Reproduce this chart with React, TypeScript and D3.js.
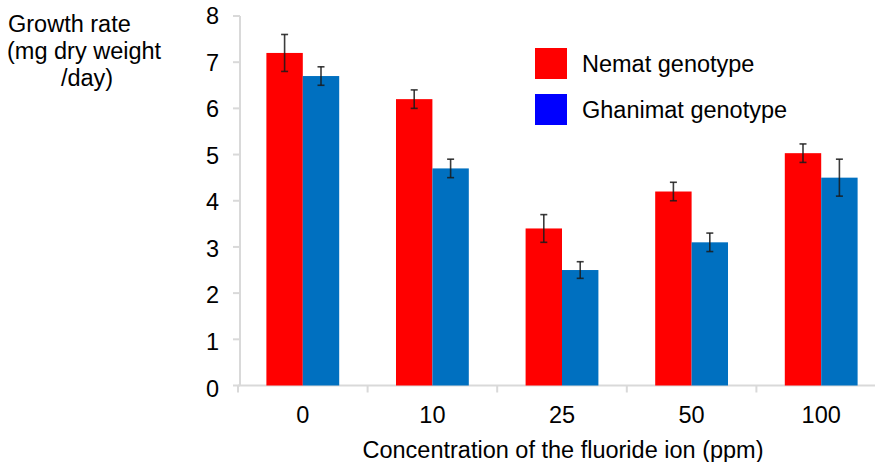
import React from 'react';
import * as d3 from 'd3';

const categories = ['0', '10', '25', '50', '100'];
const seriesNames = ['Nemat genotype', 'Ghanimat genotype'];
const nemat = [7.2, 6.2, 3.4, 4.2, 5.03];
const nematErr = [0.4, 0.2, 0.3, 0.2, 0.2];
const ghanimat = [6.7, 4.7, 2.5, 3.1, 4.5];
const ghanimatErr = [0.2, 0.2, 0.18, 0.2, 0.4];
const yTicks = [0, 1, 2, 3, 4, 5, 6, 7, 8];
const yLabelLines = ['Growth rate', '(mg dry weight', '/day)'];
const xTitle = 'Concentration of the fluoride ion (ppm)';

const W = 875;
const H = 462;
const FONT = "'Liberation Sans', Arial, Helvetica, sans-serif";
const barColors = ['#FF0000', '#0070C0'];
const legendColors = ['#FF0000', '#0000FF'];
const axisColor = '#d9d9d9';

export default function App() {
  const x0 = d3.scaleBand<string>().domain(categories).range([238, 886]).padding(0);
  const x1 = d3
    .scaleBand<string>()
    .domain(seriesNames)
    .range([0, x0.bandwidth()])
    .paddingInner(0)
    .paddingOuter(0.78);
  const y = d3.scaleLinear().domain([0, 8]).range([385.5, 16]);

  const series = [
    { name: seriesNames[0], values: nemat, errs: nematErr, color: barColors[0] },
    { name: seriesNames[1], values: ghanimat, errs: ghanimatErr, color: barColors[1] },
  ];

  const bounds = categories.map((c) => x0(c) as number).concat([x0.range()[1]]);
  const fontSize = 23.5;

  return (
    <svg width={W} height={H} style={{ display: 'block' }} fontFamily={FONT}>
      <style>{`body{margin:0}`}</style>
      <rect x={0} y={0} width={W} height={H} fill="#fff" />

      {/* y axis */}
      <line x1={240} x2={240} y1={y(8)} y2={y(0)} stroke={axisColor} strokeWidth={2} />
      {yTicks.map((t) => (
        <g key={t}>
          <line x1={233} x2={240} y1={y(t)} y2={y(t)} stroke={axisColor} strokeWidth={2} />
          <text
            x={219}
            y={y(t) + 3 * (1 - t / 8)}
            textAnchor="end"
            dominantBaseline="central"
            fontSize={fontSize}
            fill="#000"
          >
            {t}
          </text>
        </g>
      ))}

      {/* x axis */}
      <line x1={238} x2={W} y1={y(0)} y2={y(0)} stroke={axisColor} strokeWidth={2} />
      {bounds.map((b, i) => (
        <line key={i} x1={b} x2={b} y1={y(0)} y2={y(0) + 7} stroke={axisColor} strokeWidth={2} />
      ))}

      {/* bars */}
      {series.map((s) =>
        categories.map((c, i) => {
          const bx = (x0(c) as number) + (x1(s.name) as number);
          const bw = x1.bandwidth();
          return (
            <rect
              key={s.name + c}
              x={bx}
              y={y(s.values[i])}
              width={bw}
              height={y(0) - y(s.values[i])}
              fill={s.color}
            />
          );
        })
      )}

      {/* error bars */}
      {series.map((s) =>
        categories.map((c, i) => {
          const cx = (x0(c) as number) + (x1(s.name) as number) + x1.bandwidth() / 2;
          const top = y(s.values[i] + s.errs[i]);
          const bot = y(s.values[i] - s.errs[i]);
          return (
            <g key={'e' + s.name + c} stroke="#1a1a1a" strokeWidth={1.6} strokeOpacity={0.85}>
              <line x1={cx} x2={cx} y1={top} y2={bot} />
              <line x1={cx - 3.5} x2={cx + 3.5} y1={top} y2={top} />
              <line x1={cx - 3.5} x2={cx + 3.5} y1={bot} y2={bot} />
            </g>
          );
        })
      )}

      {/* x tick labels */}
      {categories.map((c) => (
        <text
          key={'xl' + c}
          x={(x0(c) as number) + x0.bandwidth() / 2}
          y={423}
          textAnchor="middle"
          fontSize={fontSize}
          fill="#000"
        >
          {c}
        </text>
      ))}

      {/* x title */}
      <text x={563} y={458} textAnchor="middle" fontSize={fontSize} fill="#000">
        {xTitle}
      </text>

      {/* y title */}
      <text x={8} y={32} fontSize={fontSize} fill="#000">
        {yLabelLines[0]}
      </text>
      <text x={7} y={59} fontSize={fontSize} fill="#000">
        {yLabelLines[1]}
      </text>
      <text x={87} y={86} textAnchor="middle" fontSize={fontSize} fill="#000">
        {yLabelLines[2]}
      </text>

      {/* legend */}
      {seriesNames.map((n, i) => (
        <g key={'lg' + n}>
          <rect x={535} y={48 + i * 46} width={32} height={31} fill={legendColors[i]} />
          <text x={582} y={72 + i * 46} fontSize={fontSize} fill="#000">
            {n}
          </text>
        </g>
      ))}
    </svg>
  );
}
